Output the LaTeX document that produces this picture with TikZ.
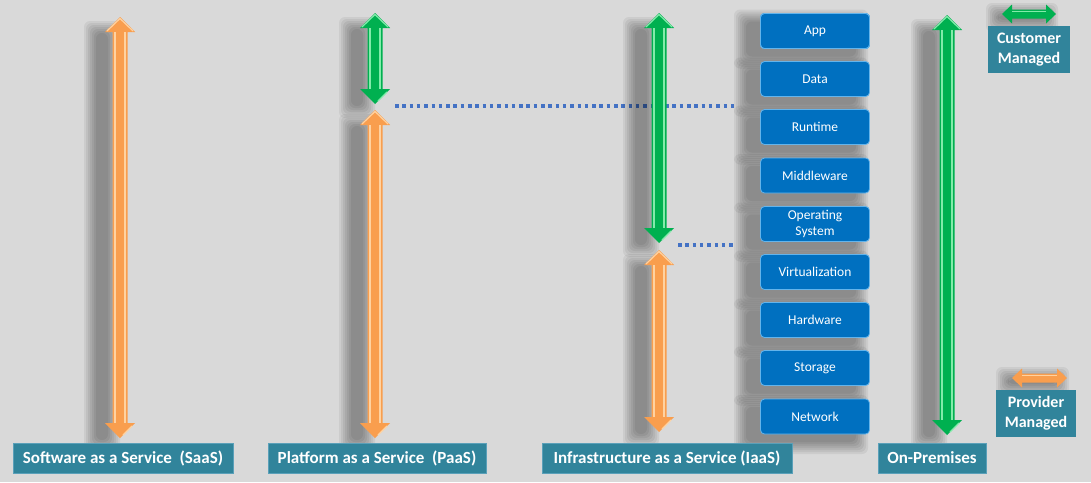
\documentclass[tikz,border=0pt]{standalone}
\usepackage{fontspec}
\setmainfont{Carlito}

\definecolor{sheetgray}{RGB}{217,217,217}
\definecolor{layerblue}{RGB}{0,112,192}
\definecolor{layeredge}{RGB}{100,180,235}
\definecolor{modelteal}{RGB}{49,132,155}
\definecolor{modeledge}{RGB}{90,160,185}
\definecolor{provorange}{RGB}{249,158,78}
\definecolor{provlight}{RGB}{255,210,160}
\definecolor{custgreen}{RGB}{0,176,80}
\definecolor{custlight}{RGB}{130,235,170}
\definecolor{splitblue}{RGB}{68,114,196}

% soft shadow behind a box: x1, y1, x2, y2
\newcommand\softshadow[4]{%
  \foreach \g in {0,2,...,12}
    \fill[black, opacity=0.06, rounded corners=6pt] ({#1-\g},{#2-\g}) rectangle ({#3+\g},{#4+\g});}
% vertical two-headed arrow: x, top, bottom, fill, highlight
\newcommand\managedspan[5]{%
  \softshadow{#1-24}{#2+16}{#1-12}{#3+2}
  \fill[#4] (#1,#2) -- ({#1+15},{#2+15}) -- ({#1+7.5},{#2+15}) -- ({#1+7.5},{#3-15})
    -- ({#1+15},{#3-15}) -- (#1,#3) -- ({#1-15},{#3-15}) -- ({#1-7.5},{#3-15})
    -- ({#1-7.5},{#2+15}) -- ({#1-15},{#2+15}) -- cycle;
  \draw[#5, line width=1.5pt] ({#1-5},{#2+15}) -- ({#1-5},{#3-15});
  \draw[#5, line width=1.5pt] ({#1+5},{#2+15}) -- ({#1+5},{#3-15});
  \draw[#5, line width=1.2pt, line cap=round] ({#1-13},{#2+14}) -- (#1,{#2+1.5}) -- ({#1+13},{#2+14});
  \draw[#5, line width=1.2pt, line cap=round] ({#1+3},{#3-3}) -- ({#1+12},{#3-12});}
% horizontal two-headed arrow: y, left, right, fill, highlight
\newcommand\keyspan[5]{%
  \softshadow{#2-4}{#1+1}{#3-10}{#1+6}
  \fill[#4] (#2,#1) -- ({#2+10},{#1-9.5}) -- ({#2+10},{#1-4.5}) -- ({#3-10},{#1-4.5})
    -- ({#3-10},{#1-9.5}) -- (#3,#1) -- ({#3-10},{#1+9.5}) -- ({#3-10},{#1+4.5})
    -- ({#2+10},{#1+4.5}) -- ({#2+10},{#1+9.5}) -- cycle;
  \draw[#5, line width=1.2pt] ({#2+10},{#1-2.5}) -- ({#3-10},{#1-2.5});}

\tikzset{
  layer/.style={draw=layeredge, line width=0.8pt, fill=layerblue, rounded corners=4pt,
    minimum width=109pt, minimum height=35pt, inner sep=0pt, align=center,
    text=white, font=\fontsize{13.5}{16}\selectfont},
  model/.style={draw=modeledge, line width=0.6pt, fill=modelteal, minimum height=30pt,
    inner sep=0pt, text=white, font=\bfseries\fontsize{17}{20}\selectfont},
  legend/.style={fill=modelteal, minimum width=82pt, minimum height=47pt, inner sep=0pt,
    align=center, text=white, font=\bfseries\fontsize{16}{20}\selectfont},
  split/.style={draw=splitblue, line width=3.5pt, dash pattern=on 3.5pt off 3.8pt}
}

\begin{document}
\begin{tikzpicture}[x=1pt,y=-1pt]
  \fill[sheetgray] (0,0) rectangle (1091,482);
  \useasboundingbox (0,0) rectangle (1091,482);

  % where the customer part stops
  \coordinate (paas cut) at (395,106);
  \coordinate (iaas cut) at (678,245);
  \coordinate (runtime cut) at (735,106);
  \coordinate (os cut) at (735,245);
  \draw[split] (paas cut) -- (runtime cut);
  \draw[split] (iaas cut) -- (os cut);

  % the stack
  \foreach \y in {31,79,127,175.5,224,272,320,368,416.5}
    \softshadow{746}{\y-9.5}{856}{\y+25.5}
  \node[layer] (app) at (815,31) {App};
  \node[layer] (data) at (815,79) {Data};
  \node[layer] (runtime) at (815,127) {Runtime};
  \node[layer] (middleware) at (815,175.5) {Middleware};
  \node[layer] (os) at (815,224) {Operating\\System};
  \node[layer] (virtualization) at (815,272) {Virtualization};
  \node[layer] (hardware) at (815,320) {Hardware};
  \node[layer] (storage) at (815,368) {Storage};
  \node[layer] (network) at (815,416.5) {Network};

  % who manages what
  \managedspan{120}{17}{438}{provorange}{provlight}
  \managedspan{375}{13}{104}{custgreen}{custlight}
  \managedspan{375}{110}{438}{provorange}{provlight}
  \managedspan{659}{13}{243}{custgreen}{custlight}
  \managedspan{659}{250}{432}{provorange}{provlight}
  \managedspan{947}{15}{435}{custgreen}{custlight}

  % models
  \node[model, minimum width=220pt] (saas) at (123,458) {Software as a Service\ \ (SaaS)};
  \node[model, minimum width=218pt] (paas) at (377,458) {Platform as a Service\ \ (PaaS)};
  \node[model, minimum width=250pt] (iaas) at (667,458) {Infrastructure as a Service (IaaS)};
  \node[model, minimum width=108pt] (onprem) at (932,458) {On-Premises};

  % legend
  \keyspan{14}{1002}{1056}{custgreen}{custlight}
  \node[legend] (cust text) at (1029,49.5) {Customer\\Managed};
  \keyspan{378}{1012}{1067}{provorange}{provlight}
  \node[legend, minimum width=80pt] (prov text) at (1036,413.5) {Provider\\Managed};
\end{tikzpicture}
\end{document}
